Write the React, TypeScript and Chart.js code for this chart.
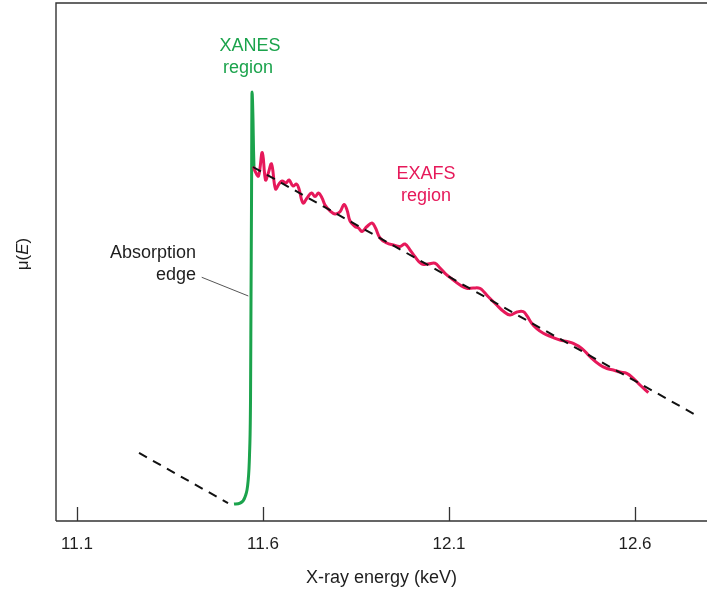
import React, { useEffect, useRef } from "react";
import { Chart, registerables } from "chart.js";

Chart.register(...registerables);

// ---- data (energy in keV, absorption mu(E) in arbitrary units) ----
const energyTicks = [11.1, 11.6, 12.1, 12.6];

const preEdgeE = [11.2667, 11.5059];
const preEdgeMu = [13.13, 3.47];

const xanesE = [11.522, 11.5382, 11.5516, 11.5597, 11.5637, 11.5664, 11.5677, 11.5691, 11.5704, 11.5731, 11.5745, 11.5758];
const xanesMu = [3.28, 3.47, 4.63, 7.53, 12.74, 23.36, 42.66, 61.97, 82.82, 77.41, 71.62, 68.15];

const postEdgeE = [11.5731, 12.7586];
const postEdgeMu = [68.34, 20.66];

const exafsE = [
  11.5739, 11.5798, 11.5879, 11.5981, 11.6067, 11.6134, 11.6228, 11.6336, 11.643, 11.6511,
  11.6618, 11.6699, 11.6806, 11.6901, 11.6968, 11.7075, 11.7183, 11.7304, 11.7398, 11.7492,
  11.7586, 11.7667, 11.7801, 11.7935, 11.807, 11.8177, 11.8258,
  11.8339, 11.8473, 11.8567, 11.8661, 11.8796, 11.893, 11.9024, 11.9145, 11.9325, 11.9503,
  11.9683, 11.9817, 11.9952, 12.0086, 12.0266, 12.0435, 12.0624, 12.0758, 12.0892, 12.1081,
  12.1296, 12.1476, 12.1645, 12.1833, 12.1941, 12.2056, 12.2282, 12.2452, 12.264, 12.2828,
  12.2997, 12.3097, 12.3223, 12.3366, 12.3535, 12.3769, 12.3984, 12.4172, 12.4341, 12.4567,
  12.479, 12.5059, 12.5247, 12.5417, 12.5597, 12.5777, 12.5954, 12.6134, 12.6358,
];
const exafsMu = [
  68.4, 67.37, 66.6, 71.14, 65.83, 66.99, 68.92, 64.09, 65.06, 65.64,
  65.25, 65.83, 64.67, 65.06, 64.09, 61.39, 62.36, 63.32, 62.64, 63.32,
  62.36, 61.0, 59.85, 59.27, 59.71, 61.1, 60.04,
  57.92, 56.85, 56.56, 55.89, 56.85, 57.53, 56.56, 54.63, 53.67, 53.28,
  52.99, 53.47, 52.32, 51.02, 49.61, 49.61, 49.75, 48.84, 47.82, 46.72,
  45.56, 44.92, 44.98, 44.92, 44.21, 43.3, 41.7, 40.54, 39.77, 40.35,
  40.41, 39.58, 38.17, 37.07, 36.24, 35.52, 34.94, 34.65, 34.31, 33.34,
  31.72, 30.12, 29.44, 29.15, 28.76, 28.51, 27.55, 26.25, 24.77,
];

const xMin = 11.0435;
const xMax = 12.7935;

const GREEN = "#1ba34c";
const RED = "#e6195a";
const INK = "#1e1e1e";
const FONT = '"Liberation Sans", Arial, sans-serif';

const pts = (xs: number[], ys: number[]) => xs.map((x, i) => ({ x, y: ys[i] }));

const framePlugin = {
  id: "frame",
  afterDraw(chart: any) {
    const { ctx, chartArea, scales } = chart;
    const xs = scales.x;
    const ys = scales.y;
    const { left, right, top, bottom } = chartArea;
    ctx.save();
    // frame: left, top, bottom
    ctx.strokeStyle = "#333";
    ctx.lineWidth = 1.4;
    ctx.beginPath();
    ctx.moveTo(left, bottom);
    ctx.lineTo(left, top);
    ctx.lineTo(right, top);
    ctx.moveTo(left, bottom);
    ctx.lineTo(right, bottom);
    ctx.stroke();
    // inward tick marks
    ctx.lineWidth = 1.3;
    ctx.beginPath();
    energyTicks.forEach((v) => {
      const px = Math.round(xs.getPixelForValue(v)) + 0.5;
      ctx.moveTo(px, bottom);
      ctx.lineTo(px, bottom - 14);
    });
    ctx.stroke();

    ctx.font = `18px ${FONT}`;
    ctx.textBaseline = "middle";
    // XANES label
    ctx.fillStyle = GREEN;
    ctx.textAlign = "center";
    ctx.fillText("XANES", xs.getPixelForValue(11.565), ys.getPixelForValue(91.7));
    ctx.fillText("region", xs.getPixelForValue(11.5597), ys.getPixelForValue(87.45));
    // EXAFS label
    ctx.fillStyle = RED;
    ctx.fillText("EXAFS", xs.getPixelForValue(12.0382), ys.getPixelForValue(67.0));
    ctx.fillText("region", xs.getPixelForValue(12.0382), ys.getPixelForValue(62.74));
    // Absorption edge label
    ctx.fillStyle = INK;
    ctx.textAlign = "right";
    ctx.fillText("Absorption", xs.getPixelForValue(11.4199), ys.getPixelForValue(51.74));
    ctx.fillText("edge", xs.getPixelForValue(11.4199), ys.getPixelForValue(47.49));
    ctx.strokeStyle = "#555";
    ctx.lineWidth = 1;
    ctx.beginPath();
    ctx.moveTo(xs.getPixelForValue(11.4352), ys.getPixelForValue(47.05));
    ctx.lineTo(xs.getPixelForValue(11.5605), ys.getPixelForValue(43.44));
    ctx.stroke();

    // y-axis title mu(E), rotated
    ctx.translate(left - 33, (top + bottom) / 2 - 8);
    ctx.rotate(-Math.PI / 2);
    ctx.fillStyle = INK;
    ctx.textAlign = "left";
    const a = "\u03bc(";
    const b = "E";
    const c = ")";
    ctx.font = `17px ${FONT}`;
    const wa = ctx.measureText(a).width;
    const wc = ctx.measureText(c).width;
    ctx.font = `italic 17px ${FONT}`;
    const wb = ctx.measureText(b).width;
    const total = wa + wb + wc;
    let x0 = -total / 2;
    ctx.font = `17px ${FONT}`;
    ctx.fillText(a, x0, 0);
    x0 += wa;
    ctx.font = `italic 17px ${FONT}`;
    ctx.fillText(b, x0, 0);
    x0 += wb;
    ctx.font = `17px ${FONT}`;
    ctx.fillText(c, x0, 0);
    ctx.restore();
  },
};

export default function App() {
  const ref = useRef<HTMLCanvasElement | null>(null);

  useEffect(() => {
    if (!ref.current) return;
    const chart = new Chart(ref.current, {
      type: "line",
      data: {
        datasets: [
          {
            label: "post-edge",
            data: pts(postEdgeE, postEdgeMu),
            borderColor: "#111",
            borderWidth: 2,
            borderDash: [9, 7],
            pointRadius: 0,
            tension: 0,
          },
          {
            label: "pre-edge",
            data: pts(preEdgeE, preEdgeMu),
            borderColor: "#111",
            borderWidth: 2,
            borderDash: [9, 7],
            pointRadius: 0,
            tension: 0,
          },
          {
            label: "EXAFS",
            data: pts(exafsE, exafsMu),
            borderColor: RED,
            borderWidth: 3,
            pointRadius: 0,
            tension: 0.4,
          },
          {
            label: "XANES",
            data: pts(xanesE, xanesMu),
            borderColor: GREEN,
            borderWidth: 3,
            pointRadius: 0,
            cubicInterpolationMode: "monotone",
          },
        ],
      },
      options: {
        responsive: false,
        animation: false,
        devicePixelRatio: 1,
        layout: { padding: { left: 56, top: 3, right: 0, bottom: 0 } },
        plugins: { legend: { display: false }, tooltip: { enabled: false } },
        scales: {
          x: {
            type: "linear",
            min: xMin,
            max: xMax,
            afterBuildTicks: (scale: any) => {
              scale.ticks = energyTicks.map((v) => ({ value: v }));
            },
            grid: { display: false, drawTicks: false, tickLength: 0 },
            border: { display: false },
            ticks: {
              padding: 13,
              color: INK,
              font: { family: FONT, size: 17 },
              maxRotation: 0,
              callback: (v: any) => Number(v).toFixed(1),
            },
            title: {
              display: true,
              text: "X-ray energy (keV)",
              color: INK,
              font: { family: FONT, size: 18 },
              padding: { top: 0, bottom: 1 },
            },
          },
          y: { display: false, min: 0, max: 100 },
        },
      },
      plugins: [framePlugin],
    } as any);
    return () => chart.destroy();
  }, []);

  return (
    <div style={{ position: "absolute", left: 0, top: 0, width: 707, height: 590, background: "#fff" }}>
      <canvas ref={ref} width={707} height={590} style={{ display: "block" }} />
    </div>
  );
}
